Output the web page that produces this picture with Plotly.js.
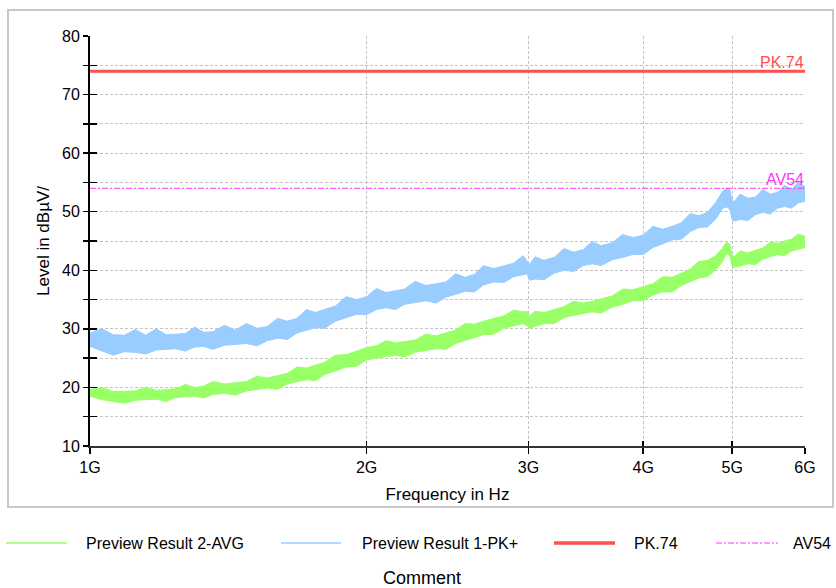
<!DOCTYPE html>
<html>
<head>
<meta charset="utf-8">
<script src="https://cdn.plot.ly/plotly-3.0.1.min.js"></script>
<style>html,body{margin:0;padding:0;background:#fff;}#chart{width:836px;height:588px;}</style>
</head>
<body>
<div id="chart"></div>
<script>
const freqGHz = [1.00,1.03,1.06,1.09,1.12,1.15,1.18,1.21,1.24,1.27,1.30,1.33,1.36,1.40,1.44,1.48,1.52,1.56,1.60,1.64,1.68,1.72,1.76,1.80,1.85,1.90,1.95,2.00,2.05,2.10,2.15,2.20,2.26,2.32,2.38,2.44,2.50,2.56,2.62,2.68,2.75,2.82,2.89,2.96,2.99,3.01,3.05,3.12,3.20,3.28,3.36,3.44,3.52,3.60,3.70,3.80,3.90,4.00,4.10,4.20,4.30,4.40,4.50,4.60,4.70,4.80,4.88,4.93,4.97,5.00,5.03,5.10,5.20,5.30,5.40,5.50,5.60,5.70,5.80,5.90,6.00];

// Preview Result 1-PK+ (dBµV): lower / upper edge of the noisy trace
const pkLow  = [27.0,26.2,25.5,26.1,26.0,25.7,26.4,26.5,26.6,26.2,
                26.9,27.0,26.5,27.2,27.3,27.5,27.1,28.0,28.4,28.2,
                29.3,29.7,30.2,30.1,31.3,31.9,32.5,32.4,33.3,33.6,
                33.3,34.2,34.5,34.8,34.4,35.4,35.9,36.4,36.3,37.5,
                38.0,37.9,38.9,39.3,39.4,38.3,38.5,38.4,39.5,40.0,
                39.8,40.8,41.1,40.8,41.8,42.2,42.7,42.7,43.9,44.5,
                45.2,45.3,46.6,47.3,47.4,48.8,50.6,50.8,50.4,48.6,
                48.4,48.7,48.5,49.5,49.9,49.6,50.6,50.9,50.6,51.5,51.8];
const pkHigh = [29.3,30.0,29.0,28.9,29.9,28.9,30.0,29.0,29.1,29.2,
                30.3,29.4,29.5,30.6,29.8,30.9,30.1,30.4,31.8,31.3,
                31.8,33.3,32.8,33.3,33.9,35.5,35.0,35.5,36.9,36.2,
                36.5,36.8,38.1,37.4,37.7,38.0,39.4,38.8,39.3,40.8,
                40.3,40.8,41.2,42.5,41.7,41.0,42.3,41.7,42.2,43.7,
                43.1,43.5,44.9,44.2,44.7,46.1,45.6,46.0,47.5,47.0,
                47.5,48.1,49.7,49.3,49.9,51.6,53.5,54.0,53.8,51.8,
                51.8,53.0,52.3,52.5,53.8,53.0,53.3,54.5,53.8,55.0,54.3];

// Preview Result 2-AVG (dBµV): lower / upper edge of the noisy trace
const avgLow  = [18.5,17.9,17.6,17.3,17.8,17.9,18.0,17.6,18.3,18.4,
                 18.5,18.2,18.8,19.0,18.7,19.4,19.6,19.9,19.7,20.6,
                 21.0,21.3,21.2,22.2,22.8,23.5,23.6,24.7,25.0,25.3,
                 25.5,25.2,26.0,26.3,26.6,26.5,27.5,28.0,28.5,29.0,
                 29.1,30.1,30.5,30.9,30.5,30.1,30.4,30.9,30.9,31.9,
                 32.3,32.6,32.9,32.7,33.7,34.2,34.8,34.8,35.8,36.3,
                 36.3,37.4,38.0,38.7,38.9,40.1,41.5,42.9,42.5,40.6,
                 40.5,40.8,41.1,41.0,41.9,42.3,42.7,42.5,43.3,43.6,43.9];
const avgHigh = [19.6,20.0,19.3,19.3,19.4,20.0,19.5,19.6,19.8,20.5,
                 20.0,20.2,21.0,20.6,20.8,21.0,21.9,21.6,22.0,22.4,
                 23.5,23.3,23.8,24.3,25.5,25.6,26.2,26.8,27.1,28.0,
                 27.6,27.8,28.1,29.1,28.8,29.3,29.8,30.9,30.8,31.3,
                 31.8,32.2,33.2,32.9,33.0,32.2,33.0,32.8,33.3,33.8,
                 34.7,34.4,34.7,35.1,35.6,36.8,36.7,37.2,37.7,38.9,
                 38.8,39.5,40.2,41.5,41.7,42.5,43.8,44.8,44.4,42.5,
                 42.4,43.3,43.0,43.4,43.8,44.8,44.6,45.0,45.3,46.2,45.8];

// Limit lines
const limitFreqGHz = [1, 6];
const pkLimit = [74, 74];
const avLimit = [54, 54];
const pkLabel = 'PK.74';
const avLabel = 'AV54';

// Axis ticks
const xTickVals = [1, 2, 3, 4, 5, 6];
const xTickText = ['1G', '2G', '3G', '4G', '5G', '6G'];
const yTickVals = [10, 15, 20, 25, 30, 35, 40, 45, 50, 55, 60, 65, 70, 75, 80];
const yTickText = ['10', '', '20', '', '30', '', '40', '', '50', '', '60', '', '70', '', '80'];

// Legend entries
const seriesNames = ['Preview Result 2-AVG', 'Preview Result 1-PK+', 'PK.74', 'AV54'];

const GREEN = '#99ff66', BLUE = '#99ccff', RED = '#ff4f4f', MAGENTA = '#ff33ff';
const FONT = 'Arial, "Liberation Sans", sans-serif';

// layout geometry (pixels)
const W = 836, H = 588, ML = 90, MR = 31, MT = 36, MB = 142;
const PW = W - ML - MR, PH = H - MT - MB;
const px = x => (x - ML) / PW;
const py = y => (H - MB - y) / PH;

const traces = [
  {x: freqGHz, y: avgLow, type: 'scatter', mode: 'lines', line: {color: GREEN, width: 1}, showlegend: false, hoverinfo: 'skip'},
  {x: freqGHz, y: avgHigh, type: 'scatter', mode: 'lines', fill: 'tonexty', fillcolor: GREEN, line: {color: GREEN, width: 1}, name: seriesNames[0], showlegend: false},
  {x: freqGHz, y: pkLow, type: 'scatter', mode: 'lines', line: {color: BLUE, width: 1}, showlegend: false, hoverinfo: 'skip'},
  {x: freqGHz, y: pkHigh, type: 'scatter', mode: 'lines', fill: 'tonexty', fillcolor: BLUE, line: {color: BLUE, width: 1}, name: seriesNames[1], showlegend: false},
  {x: limitFreqGHz, y: pkLimit, xaxis: 'x2', yaxis: 'y2', type: 'scatter', mode: 'lines', line: {color: RED, width: 3}, name: seriesNames[2], showlegend: false},
  {x: limitFreqGHz, y: avLimit, xaxis: 'x2', yaxis: 'y2', type: 'scatter', mode: 'lines', line: {color: MAGENTA, width: 1, dash: '6px,2px,2px,2px'}, name: seriesNames[3], showlegend: false}
];

const gridStyle = {showgrid: true, gridcolor: '#c4c4c4', gridwidth: 1, griddash: '3px,2px'};

// legend (drawn below the frame)
const legendY = py(543);
const legendItems = [
  {x0: 6, x1: 67, tx: 85, color: GREEN, width: 1.5, dash: 'solid', name: seriesNames[0]},
  {x0: 281, x1: 341, tx: 361, color: BLUE, width: 1.5, dash: 'solid', name: seriesNames[1]},
  {x0: 554, x1: 615, tx: 633, color: RED, width: 3.5, dash: 'solid', name: seriesNames[2]},
  {x0: 716, x1: 778, tx: 792, color: MAGENTA, width: 1, dash: '6px,2px,2px,2px', name: seriesNames[3]}
];

const shapes = [
  {type: 'rect', xref: 'paper', yref: 'paper', x0: px(8), x1: px(833), y0: py(507), y1: py(10), line: {color: '#c8c8c8', width: 2}, layer: 'below'}
];
const annotations = [
  {x: Math.log10(limitFreqGHz[1]), y: pkLimit[1], xref: 'x', yref: 'y', text: pkLabel, showarrow: false, xanchor: 'right', yanchor: 'bottom', font: {family: FONT, size: 16, color: RED}, borderpad: 0, yshift: -1},
  {x: Math.log10(limitFreqGHz[1]), y: avLimit[1], xref: 'x', yref: 'y', text: avLabel, showarrow: false, xanchor: 'right', yanchor: 'bottom', font: {family: FONT, size: 16, color: MAGENTA}, borderpad: 0, yshift: -1},
  {x: px(422), y: py(578), xref: 'paper', yref: 'paper', text: 'Comment', showarrow: false, xanchor: 'center', yanchor: 'middle', font: {family: FONT, size: 18, color: '#000'}, borderpad: 0}
];
legendItems.forEach(it => {
  shapes.push({type: 'line', xref: 'paper', yref: 'paper', x0: px(it.x0), x1: px(it.x1), y0: legendY, y1: legendY, line: {color: it.color, width: it.width, dash: it.dash}});
  annotations.push({x: px(it.tx), y: legendY, xref: 'paper', yref: 'paper', text: it.name, showarrow: false, xanchor: 'left', yanchor: 'middle', borderpad: 0, font: {family: FONT, size: 16, color: '#000'}});
});

const layout = {
  width: W, height: H,
  margin: {l: ML, r: MR, t: MT, b: MB, pad: 0},
  paper_bgcolor: '#fff', plot_bgcolor: '#fff',
  font: {family: FONT, color: '#000'},
  showlegend: false,
  xaxis: Object.assign({
    type: 'log', range: [0, Math.log10(6)], tickmode: 'array', tickvals: xTickVals, ticktext: xTickText,
    ticks: 'outside', ticklen: 6, tickwidth: 1.5, tickcolor: '#000', ticklabelstandoff: 0,
    showline: true, linecolor: '#333', linewidth: 2, zeroline: false,
    tickfont: {family: FONT, size: 16, color: '#000'},
    title: {text: 'Frequency in Hz', font: {family: FONT, size: 17, color: '#000'}, standoff: 13},
    automargin: false, fixedrange: true
  }, gridStyle),
  xaxis2: {
    type: 'log', range: [0, Math.log10(6)], overlaying: 'x', anchor: 'y2', side: 'bottom', tickmode: 'array', tickvals: xTickVals,
    ticks: 'inside', ticklen: 5, tickwidth: 1.5, tickcolor: '#000', showticklabels: false, showgrid: false, showline: false, zeroline: false, fixedrange: true
  },
  yaxis: Object.assign({
    range: [10, 80], tickmode: 'array', tickvals: yTickVals, ticktext: yTickText,
    ticks: 'outside', ticklen: 5, tickwidth: 1.5, tickcolor: '#000', ticklabelstandoff: 0,
    showline: true, linecolor: '#000', linewidth: 2, zeroline: false,
    tickfont: {family: FONT, size: 16, color: '#000'},
    title: {text: 'Level in dBµV/', font: {family: FONT, size: 17, color: '#000'}, standoff: 8},
    automargin: false, fixedrange: true
  }, gridStyle),
  yaxis2: {
    range: [10, 80], overlaying: 'y', anchor: 'x2', side: 'left', tickmode: 'array', tickvals: yTickVals,
    ticks: 'inside', ticklen: 7, tickwidth: 1.5, tickcolor: '#000', showticklabels: false, showgrid: false, showline: false, zeroline: false, fixedrange: true
  },
  shapes: shapes,
  annotations: annotations
};

Plotly.newPlot('chart', traces, layout, {staticPlot: true, displayModeBar: false});
</script>
</body>
</html>
